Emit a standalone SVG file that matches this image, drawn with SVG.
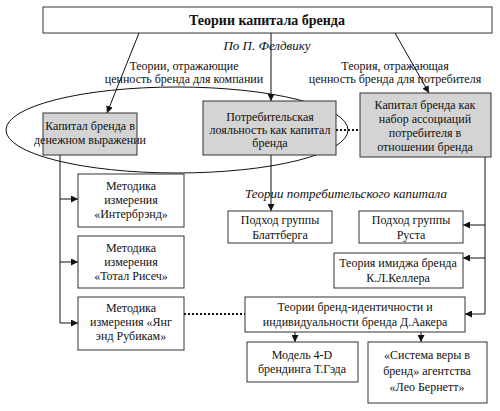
<svg xmlns="http://www.w3.org/2000/svg" width="500" height="411" viewBox="0 0 500 411">
<defs>
<marker id="ah" viewBox="0 0 10 10" refX="10" refY="5" markerWidth="7" markerHeight="7" markerUnits="userSpaceOnUse" orient="auto"><path d="M0,0 L10,5 L0,10 z" fill="#111"/></marker>
<style>
text{font-family:'Liberation Serif','DejaVu Serif',serif;font-size:12px;fill:#111;text-anchor:middle}
.b{fill:#fff;stroke:#333;stroke-width:1}
.g{fill:#d4d4d4;stroke:#333;stroke-width:1}
.t{font-weight:bold;font-size:14px}
.i{font-style:italic;font-size:13px}
.c{fill:none;stroke:#111;stroke-width:1}
.d{fill:none;stroke:#111;stroke-width:2;stroke-dasharray:2,2}
</style>
</defs>
<rect width="500" height="411" fill="#fff"/>
<g font-family="Liberation Serif, DejaVu Serif, serif">
<g id="title"><rect class="b" x="43" y="7" width="449" height="26"/><text class="t" x="267" y="25">Теории капитала бренда</text></g>
<g id="labels">
<text class="i" x="267" y="50">По П. Фелдвику</text>
<text x="184" y="70">Теории, отражающие</text>
<text x="184" y="83">ценность бренда для компании</text>
<text x="395" y="70">Теория, отражающая</text>
<text x="395" y="83">ценность бренда для потребителя</text>
<text class="i" x="346" y="198">Теории потребительского капитала</text>
</g>
<g id="connectors">
<ellipse class="c" cx="177" cy="130" rx="171" ry="43"/>
<line class="c" x1="139" y1="33" x2="107" y2="113" marker-end="url(#ah)"/>
<line class="c" x1="271" y1="33" x2="271" y2="101" marker-end="url(#ah)"/>
<line class="c" x1="395" y1="33" x2="429" y2="93" marker-end="url(#ah)"/>
<line class="d" x1="336" y1="130" x2="360" y2="130"/>
<polyline class="c" points="60,155 60,323"/>
<line class="c" x1="60" y1="199" x2="78" y2="199" marker-end="url(#ah)"/>
<line class="c" x1="60" y1="262" x2="78" y2="262" marker-end="url(#ah)"/>
<line class="c" x1="60" y1="323" x2="78" y2="323" marker-end="url(#ah)"/>
<line class="c" x1="271" y1="155" x2="271" y2="211" marker-end="url(#ah)"/>
<polyline class="c" points="485,157 485,314"/>
<line class="c" x1="485" y1="225" x2="463" y2="225" marker-end="url(#ah)"/>
<line class="c" x1="485" y1="258" x2="463" y2="258" marker-end="url(#ah)"/>
<line class="c" x1="485" y1="314" x2="465" y2="314" marker-end="url(#ah)"/>
<line class="d" x1="184" y1="314" x2="245" y2="314"/>
<line class="c" x1="295" y1="332" x2="295" y2="342" marker-end="url(#ah)"/>
<line class="c" x1="421" y1="332" x2="421" y2="342" marker-end="url(#ah)"/>
</g>
<g id="n-money"><rect class="g" x="43" y="113" width="94" height="42"/><text x="90" y="130">Капитал бренда в</text><text x="90" y="144">денежном выражении</text></g>
<g id="n-loyal"><rect class="g" x="203" y="101" width="133" height="54"/><text x="270" y="121">Потребительская</text><text x="270" y="134">лояльность как капитал</text><text x="270" y="147">бренда</text></g>
<g id="n-assoc"><rect class="g" x="360" y="93" width="131" height="64"/><text x="425" y="109">Капитал бренда как</text><text x="425" y="123">набор ассоциаций</text><text x="425" y="137">потребителя в</text><text x="425" y="151">отношении бренда</text></g>
<g id="n-interbrand"><rect class="b" x="78" y="174" width="106" height="53"/><text x="131" y="190">Методика</text><text x="131" y="204">измерения</text><text x="131" y="218">«Интербрэнд»</text></g>
<g id="n-total"><rect class="b" x="78" y="236" width="106" height="52"/><text x="131" y="252">Методика</text><text x="131" y="266">измерения</text><text x="131" y="280">«Тотал Рисеч»</text></g>
<g id="n-yang"><rect class="b" x="78" y="297" width="106" height="53"/><text x="131" y="312">Методика</text><text x="131" y="326">измерения «Янг</text><text x="131" y="340">энд Рубикам»</text></g>
<g id="n-blatt"><rect class="b" x="228" y="211" width="104" height="32"/><text x="280" y="224">Подход группы</text><text x="280" y="239">Блаттберга</text></g>
<g id="n-rust"><rect class="b" x="359" y="211" width="104" height="32"/><text x="411" y="224">Подход группы</text><text x="411" y="239">Руста</text></g>
<g id="n-keller"><rect class="b" x="334" y="253" width="129" height="35"/><text x="398" y="267">Теория имиджа бренда</text><text x="398" y="282">К.Л.Келлера</text></g>
<g id="n-aaker"><rect class="b" x="245" y="297" width="220" height="35"/><text x="355" y="311">Теории бренд-идентичности и</text><text x="355" y="326">индивидуальности бренда Д.Аакера</text></g>
<g id="n-4d"><rect class="b" x="247" y="342" width="111" height="40"/><text x="302" y="359">Модель 4-D</text><text x="302" y="373">брендинга Т.Гэда</text></g>
<g id="n-burnett"><rect class="b" x="368" y="342" width="119" height="61"/><text x="427" y="359">«Система веры в</text><text x="427" y="375">бренд» агентства</text><text x="427" y="391">«Лео Бернетт»</text></g>
</g>
</svg>
